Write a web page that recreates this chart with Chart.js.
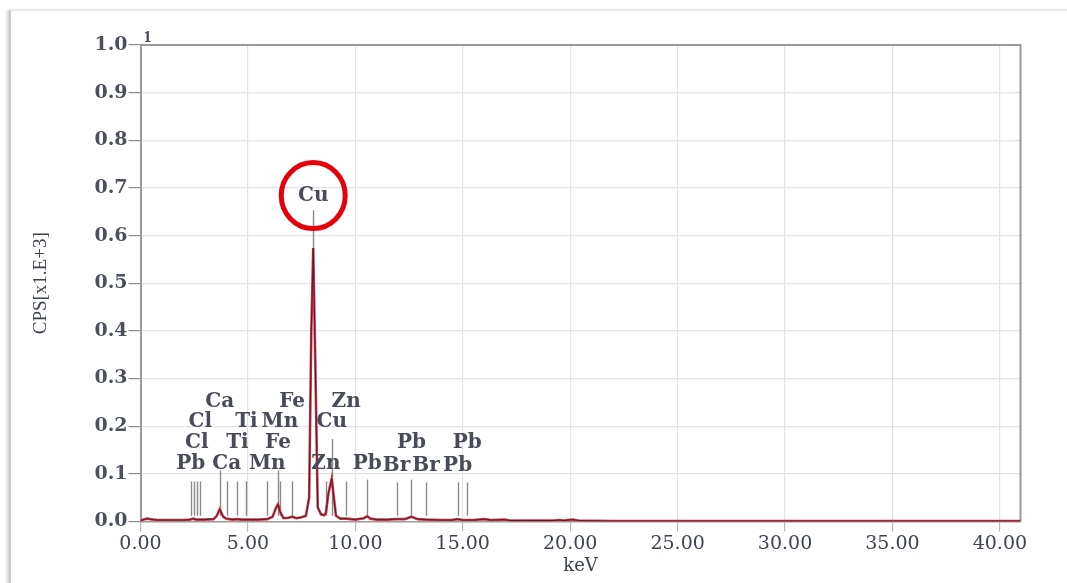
<!DOCTYPE html>
<html><head><meta charset="utf-8">
<script src="https://cdn.jsdelivr.net/npm/chart.js@4/dist/chart.umd.min.js"></script>
<style>
html,body{margin:0;padding:0;background:#fff;overflow:hidden;}
#frame{position:absolute;left:9px;top:10px;width:1100px;height:600px;border-top:1px solid #e4e4e4;border-left:2px solid #c9c9c9;box-shadow:-2px 0 3px rgba(0,0,0,0.18);}
#c{position:absolute;left:0;top:0;}
</style></head><body>
<div id="frame"></div>
<canvas id="c" width="1067" height="583"></canvas>
<script>
// Spectrum (keV vs CPS x1E3)
const spectrumKeV = [0.0,0.15,0.3,0.45,0.6,0.8,1.0,1.5,2.0,2.3,2.45,2.6,3.0,3.4,3.55,3.69,3.85,4.0,4.3,4.5,4.7,5.0,5.5,5.9,6.15,6.3,6.40,6.5,6.65,6.9,7.06,7.25,7.5,7.7,7.85,7.95,8.04,8.13,8.25,8.4,8.55,8.63,8.75,8.90,9.0,9.1,9.3,9.57,10.0,10.4,10.55,10.7,11.0,11.5,11.92,12.3,12.61,12.9,13.3,14.0,14.5,14.76,15.0,15.5,16.0,16.3,16.95,17.2,18.0,19.2,19.5,19.7,20.1,20.4,22.0,25.0,30.0,35.0,40.96];
const spectrumCPS = [0.002,0.004,0.006,0.005,0.004,0.003,0.003,0.003,0.003,0.004,0.006,0.004,0.004,0.005,0.012,0.026,0.010,0.006,0.004,0.005,0.004,0.004,0.004,0.005,0.010,0.028,0.036,0.020,0.007,0.008,0.010,0.007,0.009,0.012,0.050,0.400,0.574,0.350,0.030,0.015,0.013,0.018,0.060,0.090,0.050,0.012,0.006,0.006,0.004,0.007,0.011,0.006,0.004,0.004,0.005,0.005,0.010,0.005,0.004,0.003,0.003,0.005,0.003,0.003,0.005,0.003,0.004,0.002,0.002,0.002,0.003,0.002,0.004,0.002,0.001,0.001,0.001,0.001,0.001];

// Axis ticks
const xTickValues = [0,5,10,15,20,25,30,35,40];
const xTickLabels = ['0.00','5.00','10.00','15.00','20.00','25.00','30.00','35.00','40.00'];
const yTickValues = [0,0.1,0.2,0.3,0.4,0.5,0.6,0.7,0.8,0.9,1.0];
const yTickLabels = ['0.0','0.1','0.2','0.3','0.4','0.5','0.6','0.7','0.8','0.9','1.0'];

// Element marker lines
const markerKeV    = [2.34,2.47,2.62,2.78,3.69,4.01,4.51,4.93,5.90,6.40,6.49,7.06,8.04,8.63,8.90,9.57,10.55,11.92,12.61,13.29,14.76,15.21];
const markerLabel  = ['Pb','','Cl','Cl','Ca','Ca','Ti','Ti','Mn','Fe','Mn','Fe','Cu','Zn','Cu','Zn','Pb','Br','Pb','Br','Pb','Pb'];
const markerLabelY = [0.1205,null,0.1646,0.2086,0.2505,0.1205,0.1646,0.2086,0.1205,0.1646,0.2086,0.2505,0.684,0.1205,0.2086,0.2505,0.1205,0.1170,0.1646,0.1170,0.1170,0.1646];
const markerTop    = [0.084,0.084,0.084,0.084,0.107,0.084,0.084,0.084,0.084,0.107,0.084,0.084,0.653,0.084,0.173,0.084,0.088,0.082,0.088,0.082,0.082,0.082];
const markerBottom = [0.012,0.012,0.012,0.012,0.012,0.012,0.012,0.012,0.012,0.012,0.012,0.012,0.574,0.012,0.012,0.012,0.012,0.012,0.012,0.012,0.012,0.012];
const highlightKeV = 8.04;
const highlightCPS = 0.684;
const cornerText = '1';

const points = spectrumKeV.map((x,i)=>({x:x,y:spectrumCPS[i]}));

const markerPlugin = {
  id:'markers',
  beforeDatasetsDraw(chart){
    const {ctx, chartArea:a, scales:{x,y}} = chart;
    ctx.save();
    ctx.strokeStyle='#9a9a9a'; ctx.lineWidth=2;
    ctx.beginPath();
    ctx.moveTo(a.left,a.top); ctx.lineTo(a.right,a.top); ctx.lineTo(a.right,a.bottom);
    ctx.stroke();
    ctx.strokeStyle='#8a8a8a'; ctx.lineWidth=1.4;
    markerKeV.forEach((e,i)=>{
      const px = Math.round(x.getPixelForValue(e))+0.5;
      ctx.beginPath();
      ctx.moveTo(px, y.getPixelForValue(markerTop[i]));
      ctx.lineTo(px, y.getPixelForValue(markerBottom[i]));
      ctx.stroke();
    });
    ctx.restore();
  },
  afterDatasetsDraw(chart){
    const {ctx, chartArea:a, scales:{x,y}} = chart;
    ctx.save();
    ctx.font='bold 20px "DejaVu Serif"';
    ctx.fillStyle='#474c58';
    ctx.textAlign='center'; ctx.textBaseline='middle';
    markerKeV.forEach((e,i)=>{
      if(!markerLabel[i]) return;
      ctx.fillText(markerLabel[i], x.getPixelForValue(e), y.getPixelForValue(markerLabelY[i]));
    });
    ctx.strokeStyle='#e6000a'; ctx.lineWidth=5;
    ctx.beginPath();
    ctx.ellipse(x.getPixelForValue(highlightKeV), y.getPixelForValue(highlightCPS), 32, 33, 0, 0, Math.PI*2);
    ctx.stroke();
    ctx.font='bold 16px "Liberation Serif"';
    ctx.fillStyle='#474c58';
    ctx.textAlign='left'; ctx.textBaseline='alphabetic';
    ctx.fillText(cornerText, a.left+3, a.top-3);
    ctx.restore();
  }
};

new Chart(document.getElementById('c'), {
  type:'line',
  data:{datasets:[
    {data:points, borderColor:'#c4404f', borderWidth:2.6, pointRadius:0, tension:0, order:2},
    {data:points, borderColor:'#6d1020', borderWidth:1, pointRadius:0, tension:0, order:1}
  ]},
  options:{
    responsive:false, animation:false, events:[],
    layout:{padding:{top:45,right:46.5,left:0,bottom:0}},
    plugins:{legend:{display:false},tooltip:{enabled:false}},
    scales:{
      x:{type:'linear',min:0,max:40.96,
        afterBuildTicks:s=>{s.ticks=xTickValues.map(v=>({value:v}));},
        afterFit:s=>{s.height=61.5;},
        ticks:{callback:(v,i)=>xTickLabels[i], font:{family:'DejaVu Serif',size:19}, color:'#3d4350', padding:1, maxRotation:0, autoSkip:false},
        grid:{color:'#e3e3e3', lineWidth:1.2, tickLength:10, tickColor:'#b8b8b8'},
        border:{color:'#9c9c9c', width:1.5},
        title:{display:true,text:'keV',font:{family:'DejaVu Serif',size:18},color:'#3d4350',padding:{top:0,bottom:6}}
      },
      y:{min:0,max:1,
        afterBuildTicks:s=>{s.ticks=yTickValues.map(v=>({value:v}));},
        afterFit:s=>{s.width=140.5;},
        ticks:{callback:(v,i)=>yTickLabels[i], font:{family:'DejaVu Serif',size:19,weight:'bold'}, color:'#4a505c', padding:1, autoSkip:false},
        grid:{color:'#e3e3e3', lineWidth:1.2, tickLength:12, tickColor:'#8c8c8c'},
        border:{color:'#9a9a9a', width:2},
        title:{display:true,text:'CPS[x1.E+3]',font:{family:'Liberation Serif',size:19},color:'#3d4350',padding:{top:30,bottom:0}}
      }
    }
  },
  plugins:[markerPlugin]
});
</script>
</body></html>
